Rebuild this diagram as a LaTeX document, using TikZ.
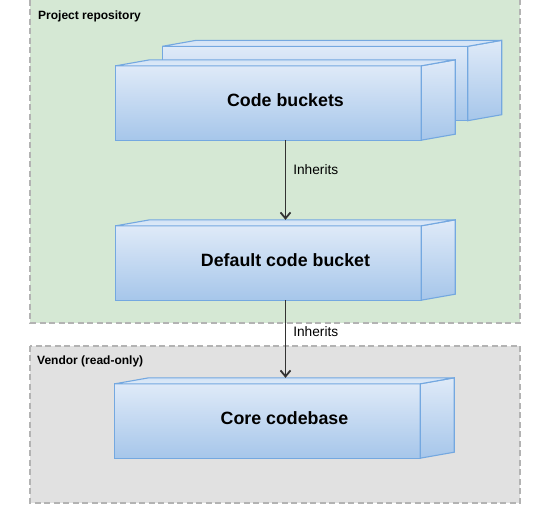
\documentclass[tikz,border=0pt]{standalone}
\usepackage{fontspec}
\setmainfont{Liberation Sans}
\usetikzlibrary{calc,arrows.meta}
\definecolor{grpgreen}{HTML}{D5E8D4}
\definecolor{grpgray}{HTML}{E1E1E1}
\definecolor{grpline}{HTML}{B3B3B3}
\definecolor{cubetop}{HTML}{DFEAF8}
\definecolor{cubebot}{HTML}{A6C6EA}
\definecolor{cubeline}{HTML}{74A8E0}
\definecolor{lidcol}{HTML}{D3E3F6}
\definecolor{arrowcol}{HTML}{333333}
\tikzset{
  x=1pt,y=1pt,
  group/.style={draw=grpline,line width=2pt,dash pattern=on 6pt off 3.5pt},
  grouplabel/.style={anchor=west,font=\bfseries\fontsize{12}{14}\selectfont,inner sep=0pt},
  cubebox/.style={minimum width=339pt,minimum height=80pt,inner sep=0pt,
    font=\bfseries\fontsize{17.8}{20}\selectfont},
  face/.style={draw=cubeline,line width=1.1pt,top color=cubetop,bottom color=cubebot,line join=miter},
  lid/.style={draw=cubeline,line width=1.1pt,top color=lidcol,bottom color=cubetop},
  link/.style={draw=arrowcol,line width=1.6pt,-{Straight Barb[length=6pt,width=10pt,line width=1.8pt]}},
  lbl/.style={anchor=west,font=\fontsize{13.7}{16}\selectfont,inner sep=0pt,xshift=7pt}
}
\newcommand\cubefaces[1]{%
  \path[face] (#1.south west) rectangle ($(#1.north east)+(-34,-6)$);
  \path[face] ($(#1.south east)+(-34,0)$) -- ($(#1.south east)+(0,6)$)
     -- (#1.north east) -- ($(#1.north east)+(-34,-6)$) -- cycle;
  \path[lid] ($(#1.north west)+(0,-6)$) -- ($(#1.north west)+(34,0)$)
     -- (#1.north east) -- ($(#1.north east)+(-34,-6)$) -- cycle;
}
\begin{document}
\begin{tikzpicture}
\useasboundingbox (0,0) rectangle (540,-523);
% containers
\path[group,fill=grpgreen] (30,10) rectangle (520,-322.5);
\node[grouplabel] (prjlbl) at (38,-16) {Project repository};
\path[group,fill=grpgray] (30,-345.5) rectangle (520,-502.5);
\node[grouplabel] (venlbl) at (37,-361) {Vendor (read-only)};
% cubes
\node[cubebox] (cbback) at (332,-80.5) {};
\cubefaces{cbback}
\node[cubebox] (cb) at (285.5,-100) {};
\cubefaces{cb}
\node[font=\bfseries\fontsize{17.8}{20}\selectfont] (cbtxt) at (cb.center) {Code buckets};
\node[cubebox] (dcb) at (285.5,-260) {};
\cubefaces{dcb}
\node[font=\bfseries\fontsize{17.8}{20}\selectfont] (dcbtxt) at (dcb.center) {Default code bucket};
\node[cubebox] (core) at (284.5,-418) {};
\cubefaces{core}
\node[font=\bfseries\fontsize{17.8}{20}\selectfont] (coretxt) at (core.center) {Core codebase};
% connectors
\draw[link] (cb.south) -- node[lbl,pos=0.375] {Inherits} (dcb.north -| cb.south);
\draw[link] (dcb.south) -- node[lbl,pos=0.4] {Inherits} (core.north -| dcb.south);
\end{tikzpicture}
\end{document}
